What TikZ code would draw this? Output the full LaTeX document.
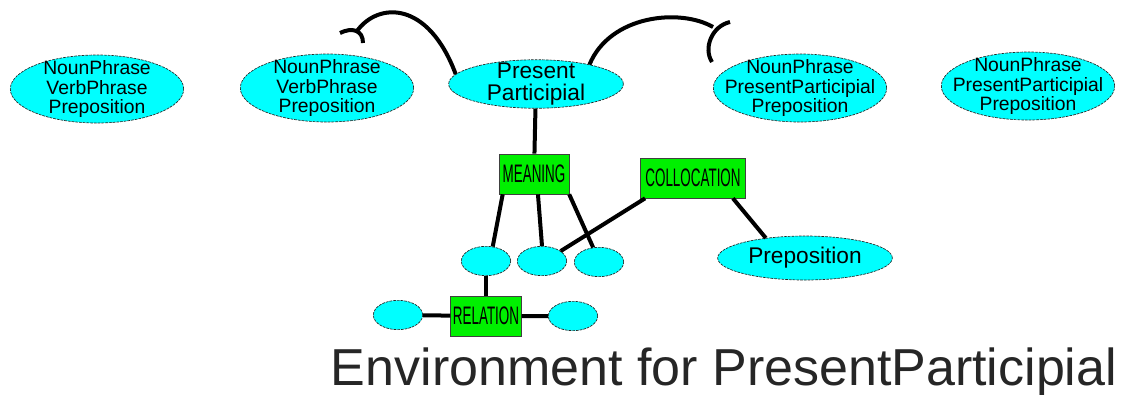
\documentclass[tikz,border=0pt]{standalone}
\usepackage{fontspec}
\setmainfont{Liberation Sans}
\newfontfamily\boxfont[FakeStretch=0.53]{Liberation Sans}
\usetikzlibrary{shapes.geometric}
\definecolor{concept}{RGB}{0,255,255}
\definecolor{slot}{RGB}{0,240,0}

\begin{document}
\begin{tikzpicture}[
    x=0.75pt, y=-0.75pt,
    line width=3pt,
    outline/.style={draw=black!85, line width=0.5pt, dash pattern=on 2pt off 0.8pt},
    wordset/.style={ellipse, outline, fill=concept, minimum width=130pt, minimum height=51pt,
      inner xsep=-15pt, inner ysep=-6pt, align=center, font=\fontsize{14.5}{14.3}\selectfont},
    head/.style={ellipse, outline, fill=concept, minimum width=131pt, minimum height=34pt,
      inner sep=-3pt, align=center, font=\fontsize{17}{16.5}\selectfont},
    blank/.style={ellipse, outline, fill=concept, minimum width=37pt, minimum height=22pt, inner sep=0pt},
    role/.style={rectangle, draw=black!75, line width=0.5pt, fill=slot, inner sep=0pt,
      minimum height=30pt, font=\boxfont\fontsize{19}{19}\selectfont}
  ]
    \useasboundingbox (0,0) rectangle (1126,394);

    \node[wordset] (np1) at (97,89) {NounPhrase\\VerbPhrase\\Preposition};
    \node[wordset] (np2) at (327,88) {NounPhrase\\VerbPhrase\\Preposition};
    \node[head] (pp) at (536,84) {Present\\Participial};
    \node[wordset] (np3) at (800,88) {NounPhrase\\PresentParticipial\\Preposition};
    \node[wordset] (np4) at (1028,86) {NounPhrase\\PresentParticipial\\Preposition};

    \node[role, minimum width=52.5pt] (meaning) at (534,174) {MEANING};
    \node[role, minimum width=79pt] (colloc) at (693,178) {COLLOCATION};
    \node[role, minimum width=53pt] (relation) at (486,316) {RELATION};

    \node[blank] (m1) at (486,261) {};
    \node[blank] (m2) at (542,261) {};
    \node[blank] (m3) at (599,262) {};
    \node[blank] (r1) at (398,315) {};
    \node[blank] (r2) at (573,316) {};
    \node[head, minimum height=33pt, inner sep=0pt] (prep) at (805,258) {Preposition};

    \draw (pp) -- (meaning);
    \draw (meaning.213) -- (m1.65);
    \draw (meaning.281) -- (m2.north);
    \draw (meaning.330) -- (m3.112);
    \draw (colloc.203) -- (m2.28);
    \draw (colloc.333) -- (prep.153);
    \draw (m1) -- (relation);
    \draw (r1) -- (relation) -- (r2);

    % open links from the head word
    \coordinate (lfork) at (357,31);
    \coordinate (rfork) at (713,27);
    \draw (pp.173) .. controls (428,0) and (378,2) .. (lfork);
    \draw (340,33) .. controls (352,27) and (363,30) .. (363,43);
    \draw (pp.20) .. controls (610,15) and (680,8) .. (rfork);
    \draw (730,22) .. controls (712,26) and (703,48) .. (712,62);

    \node[anchor=base, text=black!85, font=\fontsize{39}{40}\selectfont] (heading) at (724,385)
      {Environment for PresentParticipial};
  \end{tikzpicture}
\end{document}
